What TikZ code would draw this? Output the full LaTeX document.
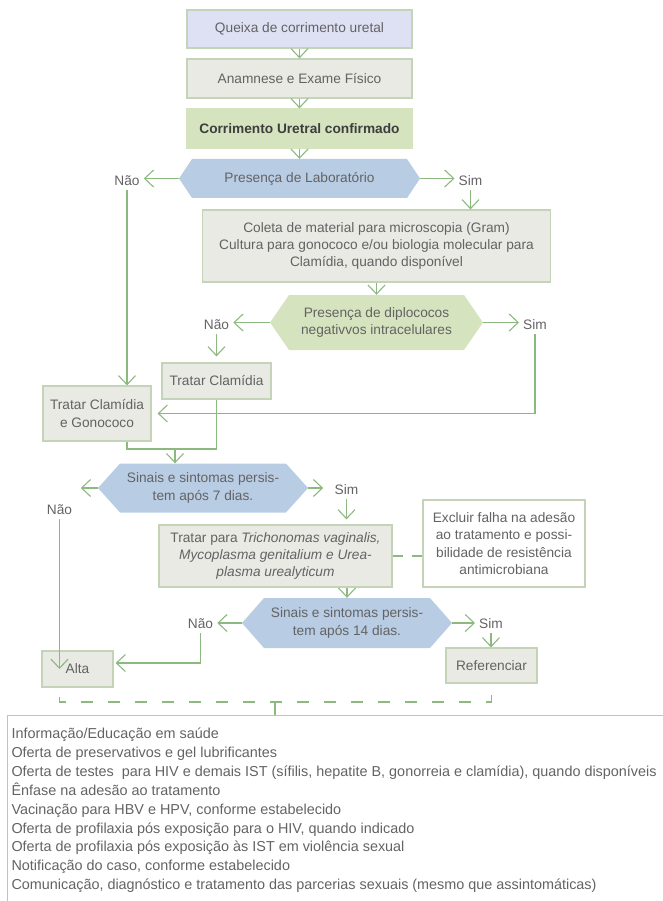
\documentclass[tikz,border=0pt]{standalone}
\usepackage{fontspec}
\setmainfont{Liberation Sans}
\usetikzlibrary{arrows.meta,calc}

\definecolor{txt}{HTML}{636363}
\definecolor{txtdark}{HTML}{3d3d3d}
\definecolor{lnk}{HTML}{8bb97f}
\definecolor{edge}{HTML}{c3d4b9}
\definecolor{listedge}{HTML}{b3cda8}
\definecolor{lilac}{HTML}{dde1f3}
\definecolor{pale}{HTML}{e8eae3}
\definecolor{leaf}{HTML}{d6e3bf}
\definecolor{sky}{HTML}{b8cce4}

\tikzset{
  base/.style={font=\fontsize{13.7}{17.3}\selectfont, text=txt, align=center, inner sep=0pt},
  box/.style={base, rectangle, draw=edge, line width=1.2pt, fill=pale},
  lbl/.style={base, inner sep=4pt},
  % hexagonal decision: width/height/point depth/fill colour
  hexa/.style args={#1/#2/#3/#4}{base, minimum width=#1pt, minimum height=#2pt,
    path picture={\fill[#4] (path picture bounding box.west)
      -- ([xshift=#3pt]path picture bounding box.north west)
      -- ([xshift=-#3pt]path picture bounding box.north east)
      -- (path picture bounding box.east)
      -- ([xshift=-#3pt]path picture bounding box.south east)
      -- ([xshift=#3pt]path picture bounding box.south west) -- cycle;}},
  link/.style={draw=lnk, line width=1.1pt},
  arr/.style={link, -{Straight Barb[length=9pt,width=17pt]}},
  dashlink/.style={link, dash pattern=on 12pt off 15pt, dash phase=18pt},
  shortdash/.style={link, dash pattern=on 10pt off 9pt},
}

\begin{document}
\begin{tikzpicture}[x=1pt,y=-1pt]
\useasboundingbox (0,0) rectangle (663,901);
\clip (0,0) rectangle (663,901);

% main column
\node[box, fill=lilac, minimum width=225pt, minimum height=38pt] (queixa) at (299.5,29) {Queixa de corrimento uretal};
\node[box, minimum width=225pt, minimum height=39pt] (anamnese) at (299.5,78.5) {Anamnese e Exame Físico};
\node[box, fill=leaf, draw=leaf, text=txtdark, font=\fontsize{13.7}{17.3}\selectfont\bfseries,
      minimum width=226pt, minimum height=39pt] (confirmado) at (299.5,128.5) {Corrimento Uretral confirmado};
\node[hexa={241/39/13/sky}] (lab) at (299.5,178.5) {Presença de Laboratório};
\node[lbl] (naoA) at (127,181) {Não};
\node[lbl] (simA) at (470.5,181) {Sim};

\node[box, minimum width=348pt, minimum height=72pt] (coleta) at (376.5,246)
  {Coleta de material para microscopia (Gram)\\Cultura para gonococo e/ou biologia molecular para\\Clamídia, quando disponível};
\node[hexa={213/55/19/leaf}] (diplo) at (376.5,322.5) {Presença de diplococos\\negativvos intracelulares};
\node[lbl] (naoB) at (216.5,325) {Não};
\node[lbl] (simB) at (535,325) {Sim};

\node[box, minimum width=109pt, minimum height=36pt] (clam) at (216.5,381) {Tratar Clamídia};
\node[box, minimum width=108pt, minimum height=55pt] (clamgono) at (97,413.5) {Tratar Clamídia\\e Gonococo};
\coordinate (juncao) at (175,449);

\node[hexa={210/49/22/sky}] (sete) at (203,488) {Sinais e sintomas persis-\\tem após 7 dias.};
\node[lbl] (naoC) at (59.5,510) {Não};
\node[lbl] (simC) at (346.5,490) {Sim};

\node[box, minimum width=233pt, minimum height=62pt] (outros) at (275.5,556)
  {Tratar para \textit{Trichonomas vaginalis,}\\\textit{Mycoplasma genitalium e Urea-}\\\textit{plasma urealyticum}};
\node[box, fill=white, minimum width=162pt, minimum height=87pt] (excluir) at (504,543.5)
  {Excluir falha na adesão\\ao tratamento e possi-\\bilidade de resistência\\antimicrobiana};

\node[hexa={210/50/22/sky}] (quatorze) at (347,623) {Sinais e sintomas persis-\\tem após 14 dias.};
\node[lbl] (naoD) at (200.5,624) {Não};
\node[lbl] (simD) at (491,624) {Sim};

\node[box, minimum width=71pt, minimum height=36pt] (alta) at (77.5,669) {Alta};
\node[box, minimum width=91pt, minimum height=35pt] (referenciar) at (491.5,665.5) {Referenciar};
\coordinate (rodape) at (275,702);

% list of accompanying measures
\node[anchor=north west, draw=listedge, line width=1pt, inner xsep=4pt, inner ysep=12.4pt, text=txt] (cuidados) at (7,715)
  {\parbox[t][200pt][t]{670pt}{\fontsize{14.4}{18.9}\selectfont\raggedright
   Informação/Educação em saúde\\
   Oferta de preservativos e gel lubrificantes\\
   Oferta de testes\ \ para HIV e demais IST (sífilis, hepatite B, gonorreia e clamídia), quando disponíveis\\
   Ênfase na adesão ao tratamento\\
   Vacinação para HBV e HPV, conforme estabelecido\\
   Oferta de profilaxia pós exposição para o HIV, quando indicado\\
   Oferta de profilaxia pós exposição às IST em violência sexual\\
   Notificação do caso, conforme estabelecido\\
   Comunicação, diagnóstico e tratamento das parcerias sexuais (mesmo que assintomáticas)}};

% connectors
\draw[arr] (queixa.south) -- (anamnese.north);
\draw[arr] (anamnese.south) -- (confirmado.north);
\draw[arr] (confirmado.south) -- (lab.north);
\draw[arr] (lab.west) -- (lab.west -| naoA.east);
\draw[arr] (lab.east) -- (lab.east -| simA.west);
\draw[arr] (naoA.south) -- (naoA.south |- clamgono.north);
\draw[arr] (simA.south) -- (simA.south |- coleta.north);
\draw[arr] (coleta.south) -- (diplo.north);
\draw[arr] (diplo.west) -- (diplo.west -| naoB.east);
\draw[arr] (diplo.east) -- (diplo.east -| simB.west);
\draw[arr, shorten >=6pt] (naoB.south) -- (clam.north);
\draw[arr, shorten >=6pt] (simB.south) |- (clamgono.east);
\draw[link] (naoA.south |- clamgono.south) |- (juncao) -| (clam.south);
\draw[arr] (juncao) -- (juncao |- sete.north);
\draw[arr] (sete.west) -- ++(-17,0) coordinate (seteNao);
\draw[arr] (naoC.south) -- (naoC.south |- alta.center);
\draw[arr] (sete.east) -- ++(15,0) coordinate (seteSim);
\draw[arr, shorten >=5pt] (simC.south) -- (simC.south |- outros.north);
\draw[shortdash] (outros.east) -- (outros.east -| excluir.west);
\draw[arr] (quatorze.north |- outros.south) -- (quatorze.north);
\draw[arr] (quatorze.west) -- (quatorze.west -| naoD.east);
\draw[arr] (quatorze.east) -- (quatorze.east -| simD.west);
\draw[arr, shorten >=2pt] (naoD.south) |- ([yshift=6pt]alta.east);
\draw[arr] (simD.south) -- (simD.south |- referenciar.north);
\draw[dashlink] (naoC.south |- alta.south) |- (rodape) -| (referenciar.south);
\draw[link] (rodape) -- (rodape |- cuidados.north);
\end{tikzpicture}
\end{document}
